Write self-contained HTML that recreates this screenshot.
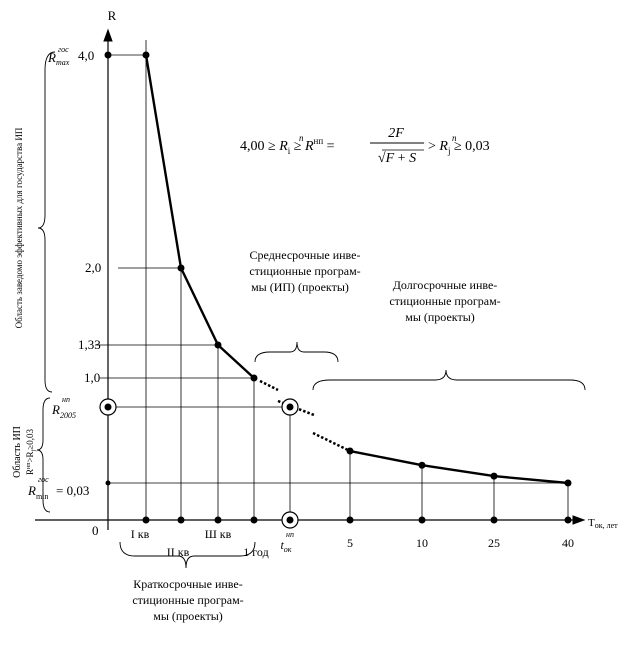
<!DOCTYPE html>
<html><head><meta charset="utf-8"><style>
body{margin:0;background:#fff}
svg{display:block;font-family:"Liberation Serif","DejaVu Serif",serif}
</style></head><body>
<svg id="c" width="637" height="655" viewBox="0 0 637 655">
<g stroke="#000" fill="none">
<line x1="108" y1="530" x2="108" y2="38" stroke-width="1.2"/>
<polygon points="108,30 104,41 112,41" fill="#000"/>
<line x1="35" y1="520" x2="575" y2="520" stroke-width="1.2"/>
<polygon points="584,520 573,516 573,524" fill="#000"/>
</g>
<text x="112" y="20" font-size="13" text-anchor="middle">R</text>
<text x="588" y="526" font-size="11">Т<tspan font-size="8" dy="2">ок, лет</tspan></text>
<g id="marks"></g>
<g font-size="13">
<text x="48" y="62" font-style="italic">R<tspan font-size="8" dy="3">max</tspan></text>
<text x="58" y="52" font-style="italic" font-size="8">гос</text>
<text x="78" y="60">4,0</text>
<text x="85" y="272">2,0</text>
<text x="78" y="349">1,33</text>
<text x="84" y="382">1,0</text>
<text x="52" y="414" font-style="italic">R<tspan font-size="8" dy="4">2005</tspan></text>
<text x="62" y="402" font-style="italic" font-size="8">нп</text>
<text x="28" y="495" font-style="italic">R<tspan font-size="8" dy="4" font-style="normal">min</tspan></text>
<text x="38" y="482" font-style="italic" font-size="8">гос</text>
<text x="56" y="495">= 0,03</text>
<text x="92" y="535">0</text>
</g>
<g font-size="12" text-anchor="middle">
<text x="140" y="538">I кв</text>
<text x="178" y="556">II кв</text>
<text x="218" y="538">Ш кв</text>
<text x="256" y="556">1 год</text>
<text x="286" y="549" font-style="italic">t<tspan font-size="8" dy="3">ок</tspan></text>
<text x="290" y="537" font-style="italic" font-size="8">нп</text>
<text x="350" y="547">5</text>
<text x="422" y="547">10</text>
<text x="494" y="547">25</text>
<text x="568" y="547">40</text>
</g>
<g font-size="14">
<text x="240" y="150">4,00 ≥ <tspan font-style="italic">R</tspan><tspan font-size="9" dy="4">i</tspan><tspan dy="-4"> ≥ </tspan><tspan font-style="italic">R</tspan><tspan font-size="9" dy="-6">нп</tspan><tspan dy="6"> =</tspan></text>
<text x="299" y="141" font-size="9" font-style="italic">n</text>
<text x="396" y="137" text-anchor="middle" font-style="italic">2F</text>
<line x1="370" y1="143" x2="424" y2="143" stroke="#000"/>
<text x="397" y="162" text-anchor="middle">√<tspan font-style="italic">F</tspan> + <tspan font-style="italic">S</tspan></text>
<line x1="382" y1="150" x2="424" y2="150" stroke="#000" stroke-width="0.8"/>
<text x="428" y="150"> &gt; <tspan font-style="italic">R</tspan><tspan font-size="9" dy="4">j</tspan><tspan dy="-4"> ≥ 0,03</tspan></text>
<text x="452" y="141" font-size="9" font-style="italic">n</text>
</g>
<g font-size="12" text-anchor="middle">
<text x="305" y="259">Среднесрочные инве-</text>
<text x="305" y="275">стиционные програм-</text>
<text x="300" y="291">мы (ИП) (проекты)</text>
</g>
<g font-size="12" text-anchor="middle">
<text x="445" y="289">Долгосрочные инве-</text>
<text x="445" y="305">стиционные програм-</text>
<text x="440" y="321">мы (проекты)</text>
</g>
<g font-size="12" text-anchor="middle">
<text x="188" y="588">Краткосрочные инве-</text>
<text x="188" y="604">стиционные програм-</text>
<text x="188" y="620">мы (проекты)</text>
</g>
<g fill="none" stroke="#000" stroke-width="0.9">
<path d="M255,362 Q255,352 270,352 L290,352 Q297,352 297,342 Q297,352 304,352 L324,352 Q338,352 338,362"/>
<path d="M313,390 Q313,380 330,380 L435,380 Q446,380 446,370 Q446,380 457,380 L570,380 Q585,380 585,390"/>
<path d="M120,542 Q120,556 135,556 L178,556 Q186,556 186,568 Q186,556 194,556 L240,556 Q255,556 255,542"/>
<path d="M55,52 Q45,52 45,70 L45,215 Q45,228 38,228 Q45,228 45,240 L45,380 Q45,392 52,392"/>
<path d="M50,398 Q43,398 43,410 L43,440 Q43,450 37,450 Q43,450 43,460 L43,500 Q43,512 50,512"/>
</g>
<text transform="translate(22,228) rotate(-90)" font-size="9" text-anchor="middle">Область заведомо эффективных для государства ИП</text>
<text transform="translate(20,452) rotate(-90)" font-size="10" text-anchor="middle">Область ИП</text>
<text transform="translate(33,452) rotate(-90)" font-size="9" text-anchor="middle">R<tspan font-size="6" dy="-3">нп</tspan><tspan dy="3">&gt;R</tspan><tspan font-size="6" dy="2">j</tspan><tspan dy="-2">≥0,03</tspan></text>
</svg>
<script>
const shortCats=["I кв","II кв","Ш кв","1 год"];
const shortR=[4.0,2.0,1.33,1.0];
const longCats=["5","10","25","40"];
const longR=[0.354,0.21,0.10,0.03];
const rNp=0.8;
const rMin=0.03;
const xSlots=[146,181,218,254,290,350,422,494,568];
function xS(i){return xSlots[i];}
const yAnch=[[4.0,55],[2.0,268],[1.33,345],[1.0,378],[0.8,407],[0.03,483],[0,520]];
function yS(v){
  for(let i=0;i<yAnch.length-1;i++){const a=yAnch[i],b=yAnch[i+1];
    if(v<=a[0]&&v>=b[0])return a[1]+(a[0]-v)/(a[0]-b[0])*(b[1]-a[1]);}
  return v>4?55:520;
}
const g=document.getElementById('marks');
const NS='http://www.w3.org/2000/svg';
function el(t,a,name){const e=document.createElementNS(NS,t);for(const k in a)e.setAttribute(k,a[k]);


g.appendChild(e);return e;}
const y0=yS(0);
el('line',{x1:xS(0),y1:40,x2:xS(0),y2:y0,stroke:'#000','stroke-width':0.8},'q1-gridline');
const labelX=[108,118,95,100];
shortR.forEach((r,i)=>{const x=xS(i),y=yS(r);
  if(i>0)el('line',{x1:x,y1:y,x2:x,y2:y0,stroke:'#000','stroke-width':0.8},'short-drop-'+i);
  el('line',{x1:labelX[i],y1:y,x2:x,y2:y,stroke:'#000','stroke-width':0.8},'short-level-'+i);
});
el('circle',{cx:108,cy:yS(shortR[0]),r:3.5,fill:'#000'},'rmax-axis-point');
const ynp=yS(rNp);
el('line',{x1:108,y1:ynp,x2:xS(4),y2:ynp,stroke:'#000','stroke-width':0.8},'rnp-level');
el('line',{x1:xS(4),y1:ynp,x2:xS(4),y2:y0,stroke:'#000','stroke-width':0.8},'rnp-drop');
const ymin=yS(rMin);
el('line',{x1:108,y1:ymin,x2:xS(8),y2:ymin,stroke:'#000','stroke-width':0.8},'rmin-level');
el('circle',{cx:108,cy:ymin,r:2.5,fill:'#000'},'rmin-axis-point');
let d='';shortR.forEach((r,i)=>{d+=(i?' L':'M')+xS(i)+','+yS(r);});
el('path',{d:d,fill:'none',stroke:'#000','stroke-width':2.4,'stroke-linejoin':'round'},'short-term-curve');
const y1=yS(shortR[3]);
el('line',{x1:xS(3)+6,y1:y1+3,x2:xS(3)+24,y2:y1+12,stroke:'#000','stroke-width':2.5,'stroke-dasharray':'2.5 2'},'dotted-1');
el('line',{x1:xS(4)-12,y1:ynp-6,x2:xS(4)+24,y2:ynp+8,stroke:'#000','stroke-width':2.5,'stroke-dasharray':'2.5 2'},'dotted-2');
const yl0=yS(longR[0]);
el('line',{x1:xS(4)+23,y1:yl0-18,x2:xS(5),y2:yl0,stroke:'#000','stroke-width':2.5,'stroke-dasharray':'2.5 2'},'dotted-3');
d='';longR.forEach((r,i)=>{d+=(i?' L':'M')+xS(5+i)+','+yS(r);
  el('line',{x1:xS(5+i),y1:yS(r),x2:xS(5+i),y2:y0,stroke:'#000','stroke-width':0.8},'long-drop-'+longCats[i]);});
el('path',{d:d,fill:'none',stroke:'#000','stroke-width':2.4,'stroke-linejoin':'round'},'long-term-curve');
shortR.forEach((r,i)=>{el('circle',{cx:xS(i),cy:yS(r),r:3.5,fill:'#000'},'point-'+shortCats[i]);
  el('circle',{cx:xS(i),cy:y0,r:3.5,fill:'#000'},'axis-point-'+shortCats[i]);});
longR.forEach((r,i)=>{el('circle',{cx:xS(5+i),cy:yS(r),r:3.5,fill:'#000'},'point-'+longCats[i]);
  el('circle',{cx:xS(5+i),cy:y0,r:3.5,fill:'#000'},'axis-point-'+longCats[i]);});
[[108,ynp],[xS(4),ynp],[xS(4),y0]].forEach((p,i)=>{
  el('circle',{cx:p[0],cy:p[1],r:8,fill:'#fff',stroke:'#000','stroke-width':1.2},'circled-ring-'+i);
  el('circle',{cx:p[0],cy:p[1],r:3.5,fill:'#000'},'circled-point-'+i);});
</script>
</body></html>
